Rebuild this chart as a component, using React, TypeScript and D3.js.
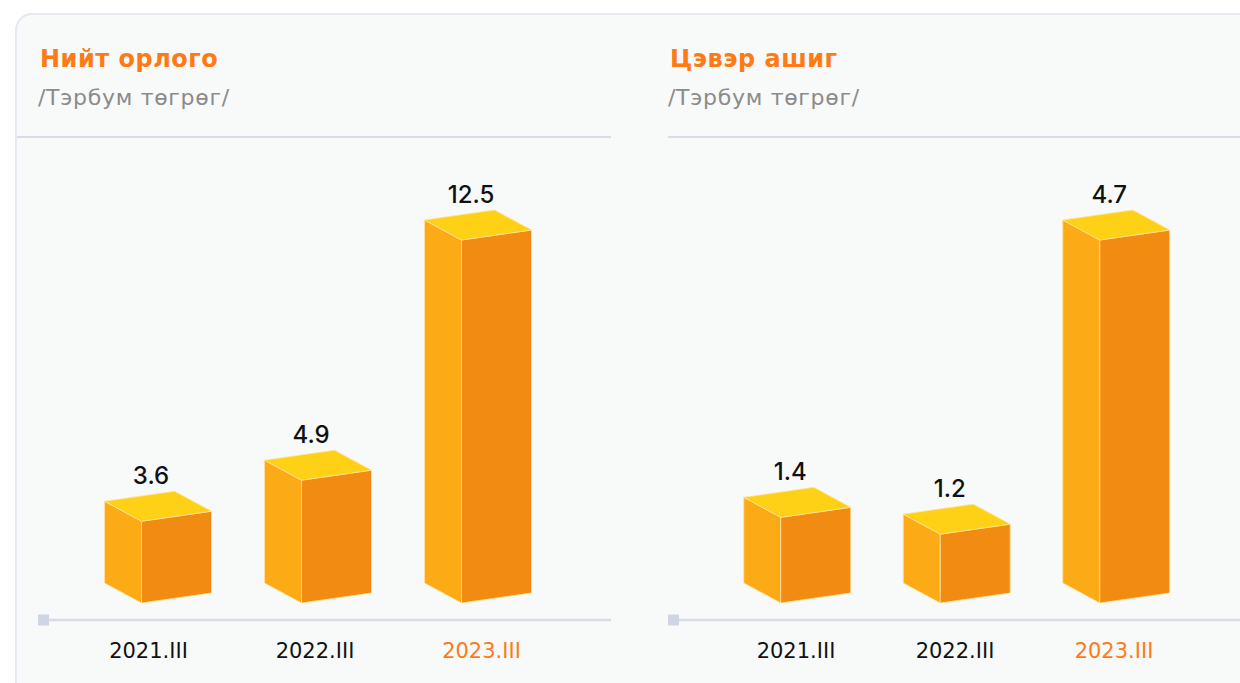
import React from "react";
import * as d3 from "d3";

const categories = ["2021.III", "2022.III", "2023.III"];
const revenueValues = [3.6, 4.9, 12.5];
const profitValues = [1.4, 1.2, 4.7];
const panelTitles = ["Нийт орлого", "Цэвэр ашиг"];
const unitLabel = "/Тэрбум төгрөг/";
const highlightCategory = "2023.III";

const W = 1240;
const H = 683;
const FONT = "Inter, 'Noto Sans', sans-serif";
const WIDE = "'DejaVu Sans', Verdana, sans-serif";
const ORANGE = "#ff7a14";

const COLORS = {
  left: "#fdaa17",
  front: "#f28b12",
  top: "#fed016",
  edge: "#ffe49a",
};

type PanelProps = {
  title: string;
  values: number[];
  bandRange: [number, number];
  labelRange: [number, number];
  titleX: number;
  lineRange: [number, number];
  axisRange: [number, number];
};

const BASE_Y = 603;
const DEPTH_X = 37;
const DEPTH_Y = 20;
const FRONT_W = 70;
const FRONT_SLOPE = 10;

function Box({ cx, yTop, fill }: { cx: number; yTop: number; fill: typeof COLORS }) {
  const L = cx - (DEPTH_X + FRONT_W) / 2;
  const F = L + DEPTH_X;
  const R = F + FRONT_W;
  const yF = yTop;
  const leftFace = [
    [L, yF - DEPTH_Y],
    [F, yF],
    [F, BASE_Y],
    [L, BASE_Y - DEPTH_Y],
  ];
  const frontFace = [
    [F, yF],
    [R, yF - FRONT_SLOPE],
    [R, BASE_Y - FRONT_SLOPE],
    [F, BASE_Y],
  ];
  const topFace = [
    [L, yF - DEPTH_Y],
    [L + FRONT_W, yF - DEPTH_Y - FRONT_SLOPE],
    [R, yF - FRONT_SLOPE],
    [F, yF],
  ];
  const pts = (p: number[][]) => p.map((d) => d.join(",")).join(" ");
  return (
    <g>
      <polygon points={pts(leftFace)} fill={fill.left} stroke={fill.edge} strokeWidth={0.8} strokeLinejoin="round" />
      <polygon points={pts(frontFace)} fill={fill.front} stroke={fill.edge} strokeWidth={0.8} strokeLinejoin="round" />
      <polygon points={pts(topFace)} fill={fill.top} stroke={fill.edge} strokeWidth={0.8} strokeLinejoin="round" />
    </g>
  );
}

function Panel({ title, values, bandRange, labelRange, titleX, lineRange, axisRange }: PanelProps) {
  const x = d3.scaleBand<string>().domain(categories).range(bandRange).padding(0);
  const xl = d3.scalePoint<string>().domain(categories).range(labelRange);
  const max = d3.max(values) ?? 1;
  const y = d3.scaleLinear().domain([0, max]).range([635, 240]);
  return (
    <g>
      <text x={titleX} y={67} fill={ORANGE} fontSize={24} fontWeight={700} fontFamily={WIDE} letterSpacing={0.5}>
        {title}
      </text>
      <text x={titleX - 2} y={105} fill="#8b8b8b" fontSize={22} fontFamily={WIDE} letterSpacing={0.7}>
        {unitLabel}
      </text>
      <line x1={lineRange[0]} x2={lineRange[1]} y1={137} y2={137} stroke="#d9dce7" strokeWidth={2} />
      <line x1={axisRange[0]} x2={axisRange[1]} y1={620} y2={620} stroke="#d7dbe7" strokeWidth={2.5} />
      <rect x={axisRange[0] - 2} y={614.5} width={11} height={11} fill="#d0d5e3" />
      {values.map((v, i) => {
        const c = categories[i];
        const cx = (x(c) ?? 0) + x.bandwidth() / 2;
        const yTop = y(v);
        return (
          <g key={c}>
            <Box cx={cx} yTop={yTop} fill={COLORS} />
            <text
              x={cx - 7}
              y={yTop - 37}
              textAnchor="middle"
              fontSize={24}
              fontWeight={500}
              fontFamily={FONT}
              fill="#111"
            >
              {v.toFixed(1)}
            </text>
          </g>
        );
      })}
      {categories.map((c) => (
        <text
          key={c}
          x={xl(c)}
          y={658}
          textAnchor="middle"
          fontSize={21}
          fontFamily={WIDE}
          fill={c === highlightCategory ? ORANGE : "#111"}
        >
          {c}
        </text>
      ))}
    </g>
  );
}

export default function App() {
  return (
    <svg
      width={W}
      height={H}
      viewBox={`0 0 ${W} ${H}`}
      style={{ position: "absolute", left: 0, top: 0, display: "block", background: "#fff" }}
    >
      <rect x={16} y={14} width={W + 40} height={H + 40} rx={16} ry={16} fill="#f8f9f9" stroke="#e6e9ef" strokeWidth={2} />
      <Panel
        title={panelTitles[0]}
        values={revenueValues}
        bandRange={[78, 558]}
        labelRange={[148.5, 481.5]}
        titleX={40}
        lineRange={[17, 611]}
        axisRange={[40, 611]}
      />
      <Panel
        title={panelTitles[1]}
        values={profitValues}
        bandRange={[717.5, 1196]}
        labelRange={[796, 1114]}
        titleX={670}
        lineRange={[668, 1240]}
        axisRange={[670, 1240]}
      />
    </svg>
  );
}
